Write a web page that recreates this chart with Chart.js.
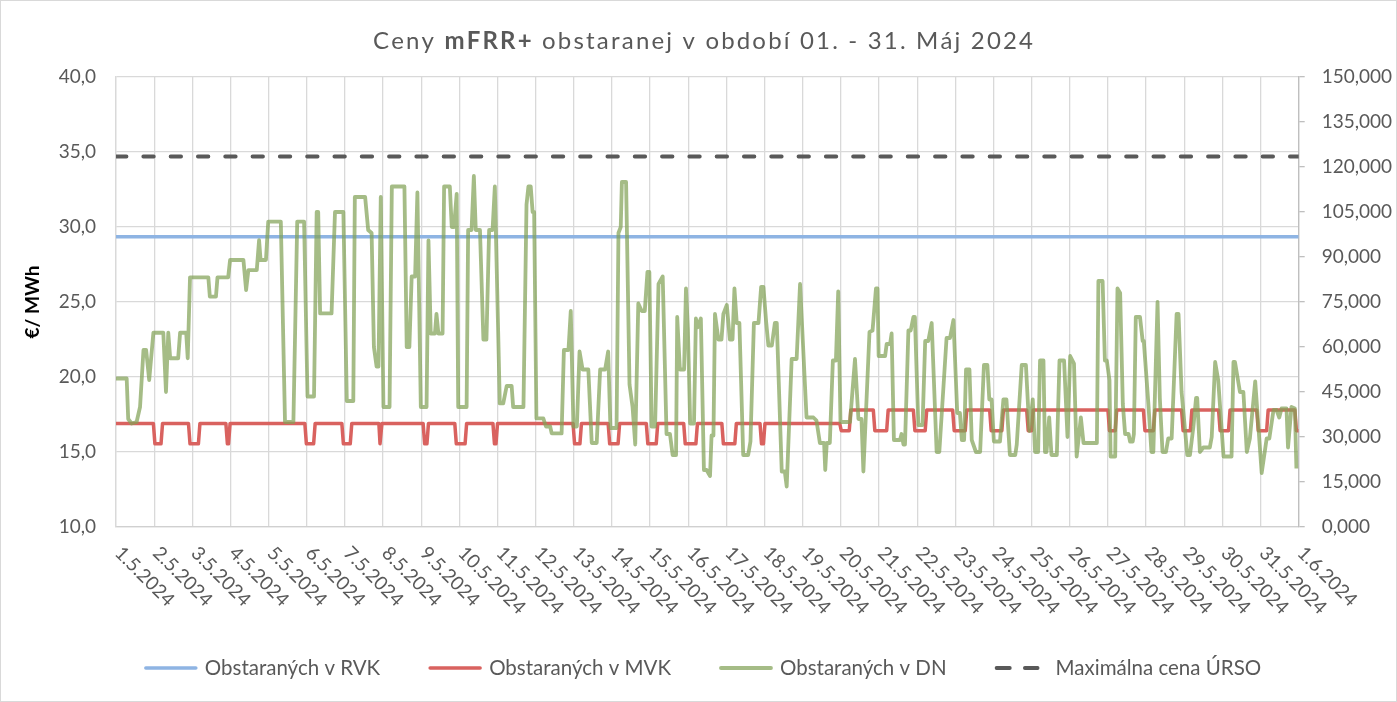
<!DOCTYPE html>
<html lang="sk">
<head>
<meta charset="utf-8">
<title>Ceny mFRR+ obstaranej v období 01. - 31. Máj 2024</title>
<script src="https://cdn.jsdelivr.net/npm/chart.js@4.4.1/dist/chart.umd.min.js"></script>
<style>
  html, body { margin: 0; padding: 0; background: #fff; }
  #wrap { width: 1397px; height: 702px; }
</style>
</head>
<body>
<div id="wrap"><canvas id="chart" width="1397" height="702"></canvas></div>
<script>
const titleParts = [['Ceny ', 'normal'], ['mFRR+', 'bold'], [' obstaranej v období 01. - 31. Máj 2024', 'normal']];
const yTitle = '€/ MWh';

const dayLabels = [
  '1.5.2024', '2.5.2024', '3.5.2024', '4.5.2024', '5.5.2024', '6.5.2024', '7.5.2024', '8.5.2024',
  '9.5.2024', '10.5.2024', '11.5.2024', '12.5.2024', '13.5.2024', '14.5.2024', '15.5.2024', '16.5.2024',
  '17.5.2024', '18.5.2024', '19.5.2024', '20.5.2024', '21.5.2024', '22.5.2024', '23.5.2024', '24.5.2024',
  '25.5.2024', '26.5.2024', '27.5.2024', '28.5.2024', '29.5.2024', '30.5.2024', '31.5.2024', '1.6.2024'
];

const seriesNames = ['Obstaraných v RVK', 'Obstaraných v MVK', 'Obstaraných v DN', 'Maximálna cena ÚRSO'];

// x = days since 1.5.2024 00:00
const rvkDay = [0, 31];
const rvkPrice = [29.35, 29.35];

const maxDay = [0, 31];
const maxPrice = [34.7, 34.7];

const mvkDay = [
  0, 0.98, 1.02, 1.18, 1.22, 1.90, 1.94, 2.16, 2.20, 2.88, 2.92, 2.95, 2.99,
  4.95, 4.99, 5.18, 5.22, 5.92, 5.96, 6.14, 6.18, 6.89, 6.92, 6.94, 6.97,
  8.05, 8.09, 8.15, 8.19, 8.88, 8.92, 9.15, 9.19, 9.88, 9.92, 9.96, 10.00,
  11.98, 12.02, 12.16, 12.20, 12.90, 12.94, 13.16, 13.20, 13.90, 13.94, 14.16, 14.20,
  14.88, 14.92, 15.20, 15.24, 15.88, 15.92, 16.22, 16.26, 16.88, 16.92, 16.97, 17.01,
  18.97, 19.01, 19.22, 19.26, 19.85, 19.89, 20.20, 20.24, 20.90, 20.94, 21.21, 21.25,
  21.93, 21.97, 22.26, 22.30, 22.90, 22.94, 23.22, 23.26, 23.87, 23.91, 24.00, 24.04,
  26.00, 26.04, 26.19, 26.23, 26.93, 26.97, 27.19, 27.23, 27.93, 27.97, 28.16, 28.20,
  28.90, 28.94, 29.16, 29.20, 29.90, 29.94, 30.16, 30.20, 30.90, 30.94, 31.00
];
const mvkPrice = [
  16.9, 16.9, 15.55, 15.55, 16.9, 16.9, 15.55, 15.55, 16.9, 16.9, 15.55, 15.55, 16.9,
  16.9, 15.55, 15.55, 16.9, 16.9, 15.55, 15.55, 16.9, 16.9, 15.55, 15.55, 16.9,
  16.9, 15.55, 15.55, 16.9, 16.9, 15.55, 15.55, 16.9, 16.9, 15.55, 15.55, 16.9,
  16.9, 15.55, 15.55, 16.9, 16.9, 15.55, 15.55, 16.9, 16.9, 15.55, 15.55, 16.9,
  16.9, 15.55, 15.55, 16.9, 16.9, 15.55, 15.55, 16.9, 16.9, 15.55, 15.55, 16.9,
  16.9, 16.42, 16.42, 17.8, 17.8, 16.42, 16.42, 17.8, 17.8, 16.42, 16.42, 17.8,
  17.8, 16.42, 16.42, 17.8, 17.8, 16.42, 16.42, 17.8, 17.8, 16.42, 16.42, 17.8,
  17.8, 16.42, 16.42, 17.8, 17.8, 16.42, 16.42, 17.8, 17.8, 16.42, 16.42, 17.8,
  17.8, 16.42, 16.42, 17.8, 17.8, 16.42, 16.42, 17.8, 17.8, 16.42, 16.42
];

const dnDay = [
  0.00, 0.28, 0.32, 0.41, 0.54, 0.63, 0.72, 0.79, 0.87, 0.98, 1.24, 1.31, 1.37, 1.42, 1.63, 1.68, 1.84, 1.88,
  1.94, 2.42, 2.46, 2.62, 2.66, 2.94, 2.99, 3.34, 3.41, 3.47, 3.69, 3.75, 3.79, 3.93, 3.99, 4.32, 4.43, 4.65,
  4.75, 4.93, 5.02, 5.19, 5.26, 5.30, 5.35, 5.65, 5.74, 5.96, 6.05, 6.22, 6.26, 6.53, 6.61, 6.70, 6.76, 6.83,
  6.88, 6.94, 7.01, 7.17, 7.23, 7.56, 7.62, 7.69, 7.75, 7.84, 7.90, 7.99, 8.14, 8.19, 8.25, 8.36, 8.40, 8.45,
  8.56, 8.60, 8.75, 8.80, 8.86, 8.93, 8.97, 9.19, 9.23, 9.32, 9.38, 9.43, 9.54, 9.63, 9.71, 9.78, 9.87, 9.93,
  10.06, 10.15, 10.24, 10.37, 10.41, 10.68, 10.76, 10.81, 10.87, 10.92, 10.96, 11.02, 11.20, 11.27, 11.38,
  11.42, 11.68, 11.74, 11.86, 11.92, 11.99, 12.08, 12.15, 12.23, 12.38, 12.47, 12.60, 12.69, 12.82, 12.90,
  12.96, 13.12, 13.17, 13.23, 13.26, 13.37, 13.46, 13.54, 13.61, 13.69, 13.78, 13.86, 13.93, 13.98, 14.04,
  14.13, 14.22, 14.33, 14.43, 14.52, 14.59, 14.68, 14.71, 14.78, 14.89, 14.94, 14.99, 15.05, 15.15, 15.20,
  15.24, 15.33, 15.41, 15.48, 15.57, 15.61, 15.66, 15.70, 15.79, 15.87, 15.92, 16.01, 16.09, 16.16, 16.21,
  16.27, 16.34, 16.44, 16.57, 16.63, 16.72, 16.84, 16.91, 16.97, 17.04, 17.10, 17.19, 17.27, 17.32, 17.45,
  17.53, 17.58, 17.71, 17.84, 17.93, 18.10, 18.28, 18.36, 18.45, 18.56, 18.59, 18.63, 18.71, 18.79, 18.87,
  18.93, 18.99, 19.24, 19.37, 19.46, 19.54, 19.59, 19.75, 19.83, 19.92, 19.96, 19.99, 20.16, 20.20, 20.29,
  20.33, 20.39, 20.55, 20.59, 20.64, 20.68, 20.77, 20.83, 20.90, 20.94, 21.03, 21.14, 21.21, 21.29, 21.38,
  21.51, 21.58, 21.77, 21.86, 21.95, 22.05, 22.12, 22.17, 22.23, 22.28, 22.37, 22.43, 22.54, 22.65, 22.75,
  22.84, 22.89, 22.95, 23.01, 23.17, 23.26, 23.34, 23.43, 23.57, 23.61, 23.74, 23.85, 23.94, 24.03, 24.09,
  24.17, 24.22, 24.31, 24.35, 24.39, 24.46, 24.52, 24.66, 24.73, 24.85, 24.94, 25.01, 25.11, 25.18, 25.29,
  25.36, 25.71, 25.75, 25.86, 25.92, 25.97, 26.04, 26.07, 26.19, 26.25, 26.32, 26.39, 26.45, 26.54, 26.58,
  26.65, 26.68, 26.73, 26.84, 26.91, 26.94, 27.06, 27.14, 27.19, 27.30, 27.36, 27.43, 27.52, 27.58, 27.67,
  27.80, 27.85, 27.93, 28.08, 28.15, 28.24, 28.31, 28.34, 28.41, 28.50, 28.67, 28.72, 28.81, 28.89, 29.03,
  29.24, 29.29, 29.33, 29.46, 29.55, 29.64, 29.72, 29.86, 30.03, 30.16, 30.23, 30.34, 30.42, 30.49, 30.55,
  30.68, 30.72, 30.81, 30.90, 30.94
];
const dnPrice = [
  19.9, 19.9, 17.2, 16.9, 17.0, 18.0, 21.8, 21.8, 19.8, 22.95, 22.95, 19.0, 22.95, 21.25, 21.25, 22.95, 22.95, 21.25,
  26.64, 26.64, 25.36, 25.36, 26.64, 26.64, 27.8, 27.8, 25.8, 27.13, 27.13, 29.13, 27.8, 27.8, 30.36, 30.36, 17.0, 17.0,
  30.36, 30.36, 18.7, 18.7, 31.0, 31.0, 24.24, 24.24, 31.0, 31.0, 18.4, 18.4, 32.0, 32.0, 29.8, 29.6, 22.0, 20.7,
  20.7, 32.0, 18.0, 18.0, 32.7, 32.7, 22.0, 22.0, 26.7, 26.7, 32.3, 18.0, 18.0, 29.1, 22.9, 22.9, 24.2, 22.9,
  22.9, 32.7, 32.7, 30.0, 30.0, 32.2, 18.0, 18.0, 29.8, 29.8, 33.4, 29.8, 29.8, 22.5, 22.5, 29.8, 29.8, 32.7,
  18.24, 18.24, 19.4, 19.4, 18.0, 18.0, 31.5, 32.7, 32.7, 31.0, 31.0, 17.24, 17.24, 16.7, 16.7,
  16.24, 16.24, 21.8, 21.8, 24.4, 16.7, 16.7, 21.7, 20.5, 20.5, 15.6, 15.6, 20.5, 20.5, 21.7,
  16.6, 16.6, 29.6, 30.0, 33.0, 33.0, 19.5, 18.0, 15.5, 24.9, 24.4, 24.4, 27.0, 27.0, 16.7,
  16.7, 26.2, 26.7, 16.2, 16.2, 14.8, 14.8, 24.0, 20.5, 20.5, 25.9, 23.2, 16.9, 16.9, 23.9,
  23.3, 23.9, 13.8, 13.8, 13.4, 16.1, 16.1, 24.2, 22.5, 22.5, 24.2, 24.8, 22.5, 22.5, 25.9,
  23.6, 23.6, 14.8, 14.8, 15.7, 23.6, 23.6, 26.0, 26.0, 23.7, 22.1, 22.1, 23.6, 23.6, 13.7,
  13.7, 12.7, 21.2, 21.2, 26.2, 17.3, 17.3, 17.1, 15.6, 15.6, 13.8, 15.6, 15.6, 21.1, 21.1,
  25.7, 17.0, 17.0, 21.2, 17.2, 17.2, 13.7, 23.0, 23.1, 25.9, 25.9, 21.4, 21.4, 22.2, 22.2,
  22.9, 15.8, 15.8, 16.2, 15.5, 15.5, 23.1, 23.1, 24.0, 24.0, 16.8, 16.8, 22.4, 22.4, 23.6,
  15.0, 15.0, 22.6, 22.6, 23.8, 17.6, 17.6, 15.8, 15.8, 20.5, 20.5, 15.8, 15.0, 15.0, 20.8,
  20.8, 18.5, 18.5, 15.7, 15.7, 18.5, 18.5, 14.8, 14.8, 15.5, 20.8, 20.8, 16.4, 18.5, 15.0,
  15.0, 21.1, 21.1, 15.0, 15.0, 17.3, 14.8, 14.8, 21.1, 21.1, 16.0, 21.4, 20.9, 14.7, 17.3,
  15.6, 15.6, 26.4, 26.4, 21.1, 21.1, 19.8, 14.7, 14.7, 25.9, 25.6, 18.2, 16.2, 16.2, 15.7,
  15.7, 16.2, 24.0, 24.0, 22.4, 22.4, 18.2, 15.0, 15.0, 25.0, 18.6, 15.0, 15.0, 15.9, 15.9,
  24.2, 24.2, 19.0, 14.8, 14.8, 16.7, 18.6, 18.6, 15.0, 15.3, 15.3, 16.0, 21.0, 19.8, 14.7,
  14.7, 21.0, 21.0, 19.0, 19.0, 15.0, 15.9, 19.7, 13.6, 15.9, 15.9, 17.8, 17.8, 17.3, 17.9,
  17.9, 15.3, 18.0, 17.9, 13.9
];

const fontFamily = 'Lato, "Noto Sans", sans-serif';
const textColor = '#595959';
const gridColor = '#d9d9d9';

function toPoints(xs, ys) {
  return xs.map((x, i) => ({ x: x, y: ys[i] }));
}

function drawTitle(ctx, cx, baseline, targetWidth) {
  const chars = [];
  titleParts.forEach(([txt, weight]) => {
    for (const ch of txt) chars.push({ ch: ch, weight: weight });
  });
  let natural = 0;
  chars.forEach(c => {
    ctx.font = `${c.weight} 24px ${fontFamily}`;
    c.w = ctx.measureText(c.ch).width;
    natural += c.w;
  });
  const gap = (targetWidth - natural) / (chars.length - 1);
  let x = cx - targetWidth / 2;
  ctx.textAlign = 'left';
  ctx.textBaseline = 'alphabetic';
  chars.forEach(c => {
    ctx.font = `${c.weight} 24px ${fontFamily}`;
    ctx.fillText(c.ch, x, baseline);
    x += c.w + gap;
  });
}

function drawLegend(chart, ctx) {
  const items = chart.data.datasets.map(ds => ({
    label: ds.label,
    color: ds.borderColor,
    dashed: !!ds.borderDash,
    width: ds.borderWidth
  }));
  const sample = 54, textGap = 7, itemGap = 48, y = 668;
  ctx.font = `20.5px ${fontFamily}`;
  const widths = items.map(it => sample + textGap + ctx.measureText(it.label).width);
  const total = widths.reduce((a, b) => a + b, 0) + itemGap * (items.length - 1);
  let x = 702.5 - total / 2;
  ctx.textAlign = 'left';
  ctx.textBaseline = 'middle';
  items.forEach((it, i) => {
    ctx.beginPath();
    ctx.lineCap = 'round';
    ctx.strokeStyle = it.color;
    ctx.lineWidth = it.width;
    if (it.dashed) {
      ctx.setLineDash([13.2, 15.1]);
      ctx.moveTo(x + 2, y);
      ctx.lineTo(x + 43, y);
    } else {
      ctx.setLineDash([]);
      ctx.moveTo(x + 2, y);
      ctx.lineTo(x + sample - 2, y);
    }
    ctx.stroke();
    ctx.setLineDash([]);
    ctx.fillStyle = textColor;
    ctx.fillText(it.label, x + sample + textGap, y);
    x += widths[i] + itemGap;
  });
}

const extrasPlugin = {
  id: 'extras',
  afterDraw(chart) {
    const ctx = chart.ctx;
    const xs = chart.scales.x;
    ctx.save();

    ctx.strokeStyle = gridColor;
    ctx.lineWidth = 1;
    ctx.strokeRect(0.5, 0.5, chart.width - 1, chart.height - 1);

    ctx.fillStyle = textColor;
    drawTitle(ctx, 703, 49, 660);

    // date labels run down to the right from each tick
    ctx.font = `19px ${fontFamily}`;
    ctx.textAlign = 'left';
    ctx.textBaseline = 'middle';
    dayLabels.forEach((lab, i) => {
      const px = xs.getPixelForValue(i);
      ctx.save();
      ctx.translate(px + 2, xs.top + 23);
      ctx.rotate(Math.PI / 4);
      ctx.fillText(lab, 0, 0);
      ctx.restore();
    });

    drawLegend(chart, ctx);
    ctx.restore();
  }
};

function initChart() {
  const ctx = document.getElementById('chart');
  return new Chart(ctx, {
    type: 'line',
    data: {
      datasets: [{
        label: seriesNames[0],
        data: toPoints(rvkDay, rvkPrice),
        borderColor: '#8eb4e3',
        borderWidth: 3.5,
        order: 3
      }, {
        label: seriesNames[1],
        data: toPoints(mvkDay, mvkPrice),
        borderColor: '#d9625f',
        borderWidth: 3.5,
        order: 2
      }, {
        label: seriesNames[2],
        data: toPoints(dnDay, dnPrice),
        borderColor: 'rgba(130,162,88,0.72)',
        borderWidth: 3.8,
        order: 1
      }, {
        label: seriesNames[3],
        data: toPoints(maxDay, maxPrice),
        borderColor: '#595959',
        borderWidth: 3.8,
        borderDash: [10.5, 16.8],
        borderCapStyle: 'round',
        order: 0
      }]
    },
    options: {
      responsive: false,
      animation: false,
      layout: { padding: { top: 77, left: 0, right: 0, bottom: 0 } },
      elements: {
        point: { radius: 0 },
        line: { tension: 0, borderJoinStyle: 'round' }
      },
      scales: {
        x: {
          type: 'linear',
          min: 0,
          max: 31,
          ticks: { stepSize: 1, display: false },
          grid: { color: gridColor, lineWidth: 1.3, drawTicks: false },
          border: { color: '#d0d0d0', width: 1.3 },
          afterFit: scale => { scale.height = 175; }
        },
        y: {
          position: 'left',
          min: 10,
          max: 40,
          ticks: {
            stepSize: 5,
            padding: 20,
            color: textColor,
            font: { family: fontFamily, size: 19 },
            callback: v => v.toFixed(1).replace('.', ',')
          },
          grid: { color: gridColor, lineWidth: 1.3, drawTicks: false },
          border: { color: gridColor, width: 1.3 },
          title: {
            display: true,
            text: yTitle,
            color: '#000',
            font: { family: fontFamily, size: 19, weight: 'bold' },
            padding: { top: 21, bottom: 0 }
          },
          afterFit: scale => { scale.width = 116; }
        },
        y2: {
          position: 'right',
          min: 0,
          max: 150000,
          ticks: {
            stepSize: 15000,
            padding: 17,
            color: textColor,
            font: { family: fontFamily, size: 19 },
            callback: v => (v / 1000).toFixed(3).replace('.', ',')
          },
          grid: { drawOnChartArea: false, color: '#bfbfbf', lineWidth: 1.3, tickLength: 6 },
          border: { color: '#bfbfbf', width: 1.3 },
          afterFit: scale => { scale.width = 98.3; }
        }
      },
      plugins: {
        legend: { display: false },
        title: { display: false },
        tooltip: { enabled: false }
      }
    },
    plugins: [extrasPlugin]
  });
}

initChart();
</script>
</body>
</html>
